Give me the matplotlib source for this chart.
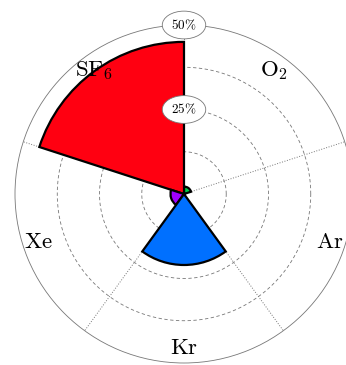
import numpy as np
import matplotlib
matplotlib.use("Agg")
import matplotlib.pyplot as plt

plt.rcParams['mathtext.fontset'] = 'cm'

gases = ['O2', 'SF6', 'Xe', 'Kr', 'Ar']
gas_labels = [r'$\mathrm{O}_2$', r'$\mathrm{SF}_6$', r'$\mathrm{Xe}$', r'$\mathrm{Kr}$', r'$\mathrm{Ar}$']
values = [2.2, 45.0, 4.0, 21.0, 0.3]
colors = ['#00cc44', '#ff0011', '#a000ff', '#0070ff', '#ffcc00']
rticks = [12.5, 25, 37.5]
rlabels = [25, 50]

fig = plt.figure(figsize=(3.46, 3.65), dpi=100)
cx, cy, R = 184, 194, 169
W, H = 346, 365
ax = fig.add_axes([(cx - R) / W, (H - cy - R) / H, 2 * R / W, 2 * R / H], projection='polar')
ax.set_theta_zero_location('E')
ax.set_theta_direction(1)
ax.set_ylim(0, 50)
ax.set_xticks([])
ax.set_yticks([])
ax.grid(False)
ax.spines['polar'].set_color('#777777')
ax.spines['polar'].set_linewidth(0.6)

n = len(gases)
width = 2 * np.pi / n
centers = np.deg2rad(54 + 72 * np.arange(n))

tt = np.linspace(0, 2 * np.pi, 400)
for r in rticks:
    ax.plot(tt, np.full_like(tt, r), ls=(0, (4, 3)), color='#777777', lw=0.6, zorder=1)
for b in centers - width / 2:
    ax.plot([b, b], [0, 50], ls=':', color='#777777', lw=0.7, zorder=1)

ax.bar(centers, values, width=width, color=colors, edgecolor='black', linewidth=1.6, zorder=3)

for th, lab in zip(centers, gas_labels):
    ax.text(th, 45.3, lab, ha='center', va='center', fontsize=16.5, zorder=5)

for r in rlabels:
    ax.text(np.pi / 2, r, r'$\mathrm{%d\%%}$' % r, ha='center', va='center', fontsize=9.5, zorder=6,
            bbox=dict(boxstyle='ellipse,pad=0.2', fc='white', ec='#777777', lw=0.6))

fig.savefig('out.png', dpi=100)
